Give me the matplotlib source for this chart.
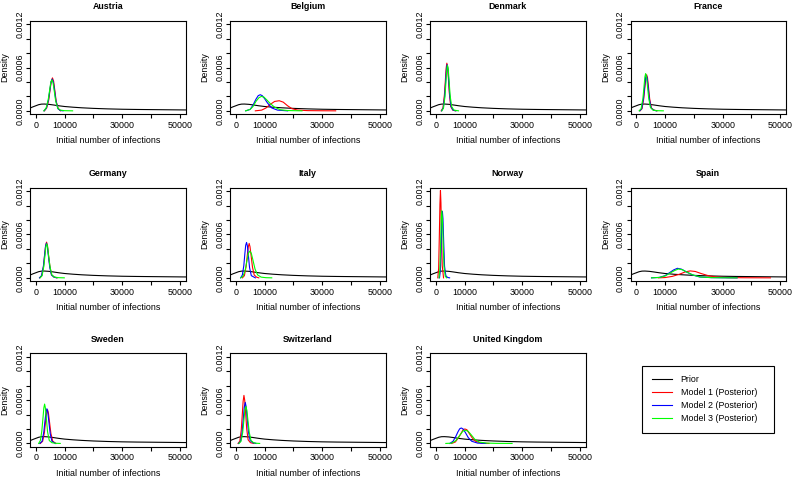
import matplotlib
matplotlib.use("Agg")
import matplotlib.pyplot as plt
from matplotlib.lines import Line2D
from matplotlib.ticker import FixedLocator, FixedFormatter

plt.rcParams['font.family'] = ['Liberation Sans', 'DejaVu Sans']

countries = ["Austria", "Belgium", "Denmark", "France", "Germany", "Italy",
             "Norway", "Spain", "Sweden", "Switzerland", "United Kingdom"]
legend_labels = ["Prior", "Model 1 (Posterior)", "Model 2 (Posterior)", "Model 3 (Posterior)"]
x_ticks = [0, 10000, 20000, 30000, 40000, 50000]
x_tick_labels = ["0", "10000", "", "30000", "", "50000"]
y_ticks = [0.0, 0.0002, 0.0004, 0.0006, 0.0008, 0.0010, 0.0012]
y_tick_labels = ["0.0000", "", "", "0.0006", "", "", "0.0012"]

# Prior density (same in every panel)
prior_x = [-4000, -2500, -1000, 0, 1000, 2000, 3000, 4500, 6000, 8000, 10000, 13000,
           16000, 20000, 25000, 30000, 35000, 40000, 45000, 50000, 55000]
prior_y = [0.00001, 0.00003, 0.000055, 0.00007, 0.000085, 0.000093, 0.000094, 0.00009,
           0.000082, 0.00007, 0.00006, 0.00005, 0.000042, 0.000034, 0.000027, 0.000022,
           0.000019, 0.000017, 0.000015, 0.000013, 0.000011]

# Posterior densities: model 1 (red), model 2 (blue), model 3 (green)
austria_m1_x = [3000, 3800, 4500, 5000, 5400, 5800, 6200, 6600, 7100, 7800, 8600]
austria_m1_y = [0, 0.00004, 0.00015, 0.00030, 0.00041, 0.000456, 0.00041, 0.00029, 0.00013, 0.00003, 0]
austria_m2_x = [2900, 3700, 4400, 4900, 5300, 5700, 6100, 6500, 7000, 7700, 8500, 9500]
austria_m2_y = [0, 0.00004, 0.00015, 0.00029, 0.0004, 0.00044, 0.0004, 0.00029, 0.00014, 0.00003, 0.000005, 0]
austria_m3_x = [2800, 3600, 4300, 4800, 5200, 5600, 6000, 6400, 6900, 7600, 8500, 10000, 12800]
austria_m3_y = [0, 0.00004, 0.00015, 0.00028, 0.00039, 0.00043, 0.00039, 0.00028, 0.00014, 0.00004, 0.00001, 0.000002, 0]

belgium_m1_x = [6800, 9000, 10500, 12000, 13500, 15100, 16500, 18000, 19500, 21500, 25000, 30000, 34700]
belgium_m1_y = [0, 0.00001, 0.00004, 0.00009, 0.00013, 0.00014, 0.00012, 0.00007, 0.00003, 0.00001, 0.000003, 0.000001, 0]
belgium_m2_x = [3500, 5000, 6000, 7000, 7800, 8500, 9200, 10000, 11000, 12500, 14500, 18000]
belgium_m2_y = [0, 0.00002, 0.00008, 0.00016, 0.00021, 0.000223, 0.00021, 0.00017, 0.00011, 0.00004, 0.00001, 0]
belgium_m3_x = [3400, 5000, 6000, 7000, 8000, 8900, 9800, 10800, 12000, 13500, 15500, 18000, 23000]
belgium_m3_y = [0, 0.00002, 0.00006, 0.00013, 0.00018, 0.0002, 0.00019, 0.00015, 0.0001, 0.00005, 0.000015, 0.000004, 0]

denmark_m1_x = [1900, 2500, 3000, 3300, 3600, 3850, 4100, 4400, 4700, 5200, 5900, 6800]
denmark_m1_y = [0, 0.00004, 0.00022, 0.0004, 0.00059, 0.00066, 0.00061, 0.00044, 0.00025, 0.00006, 0.00001, 0]
denmark_m2_x = [2000, 2600, 3100, 3400, 3700, 3950, 4200, 4500, 4800, 5300, 6000, 7000]
denmark_m2_y = [0, 0.00004, 0.00021, 0.00039, 0.00057, 0.00064, 0.00059, 0.00043, 0.00024, 0.00006, 0.00001, 0]
denmark_m3_x = [2100, 2700, 3200, 3500, 3800, 4070, 4350, 4650, 5000, 5500, 6300, 7900]
denmark_m3_y = [0, 0.00004, 0.0002, 0.00038, 0.00056, 0.00063, 0.00057, 0.0004, 0.00021, 0.00006, 0.00001, 0]

france_m1_x = [1300, 2000, 2600, 3000, 3300, 3600, 3900, 4250, 4650, 5250, 6100, 7200]
france_m1_y = [0, 0.00003, 0.00017, 0.00033, 0.00045, 0.0005, 0.00046, 0.00033, 0.00017, 0.00004, 0.00001, 0]
france_m2_x = [1200, 1900, 2500, 2900, 3200, 3500, 3800, 4150, 4550, 5150, 6000, 7000]
france_m2_y = [0, 0.00003, 0.00017, 0.00033, 0.00045, 0.00049, 0.00045, 0.00032, 0.00016, 0.00004, 0.00001, 0]
france_m3_x = [1000, 1700, 2300, 2700, 3000, 3260, 3550, 3900, 4300, 4900, 5800, 7200, 9400]
france_m3_y = [0, 0.00003, 0.00017, 0.00034, 0.00047, 0.000516, 0.00047, 0.00034, 0.00018, 0.00005, 0.00001, 0.000002, 0]

germany_m1_x = [1400, 2100, 2700, 3100, 3450, 3750, 4050, 4450, 4900, 5500, 6400, 7400]
germany_m1_y = [0, 0.00003, 0.00016, 0.00032, 0.00045, 0.000494, 0.00045, 0.00031, 0.00016, 0.00004, 0.00001, 0]
germany_m2_x = [1300, 2000, 2650, 3050, 3400, 3700, 4000, 4400, 4850, 5450, 6300, 7300]
germany_m2_y = [0, 0.00003, 0.00016, 0.00031, 0.00044, 0.00048, 0.00044, 0.0003, 0.00015, 0.00004, 0.00001, 0]
germany_m3_x = [1500, 2200, 2800, 3200, 3500, 3800, 4100, 4500, 5000, 5600, 6500, 8000, 9900]
germany_m3_y = [0, 0.00003, 0.00016, 0.00031, 0.00043, 0.00047, 0.00043, 0.00029, 0.00014, 0.00004, 0.00001, 0.000002, 0]

italy_m1_x = [2300, 3000, 3600, 4000, 4350, 4660, 4950, 5350, 5800, 6400, 7200, 8000]
italy_m1_y = [0, 0.00003, 0.00016, 0.00031, 0.00043, 0.000476, 0.00043, 0.0003, 0.00015, 0.00004, 0.00001, 0]
italy_m2_x = [1700, 2300, 2800, 3150, 3450, 3750, 4050, 4400, 4800, 5400, 6800]
italy_m2_y = [0, 0.00004, 0.00017, 0.00033, 0.00045, 0.00049, 0.00044, 0.0003, 0.00014, 0.00003, 0]
italy_m3_x = [1700, 2500, 3300, 3900, 4400, 4900, 5400, 6000, 6700, 7600, 8800, 10500, 12500]
italy_m3_y = [0, 0.00002, 0.00011, 0.00024, 0.00034, 0.00037, 0.00034, 0.00024, 0.00012, 0.00004, 0.00001, 0.000002, 0]

norway_m1_x = [700, 1000, 1250, 1450, 1630, 1800, 2000, 2250, 2700]
norway_m1_y = [0, 0.00013, 0.0006, 0.00102, 0.00121, 0.00104, 0.00061, 0.00017, 0]
norway_m2_x = [1300, 1600, 1850, 2100, 2300, 2500, 2750, 3050, 3500, 4100, 4800]
norway_m2_y = [0, 0.0001, 0.00039, 0.00082, 0.00092, 0.00082, 0.0005, 0.00016, 0.00003, 0.000005, 0]
norway_m3_x = [1100, 1400, 1650, 1900, 2100, 2300, 2550, 2850, 3300, 3800]
norway_m3_y = [0, 0.0001, 0.00039, 0.00083, 0.00093, 0.00083, 0.00051, 0.00016, 0.00002, 0]

spain_m1_x = [7700, 10000, 12500, 15000, 17000, 18700, 20500, 22500, 25000, 28000, 32000, 38000, 46600]
spain_m1_y = [0, 0.000004, 0.00002, 0.00005, 0.000082, 0.000096, 0.000088, 0.00006, 0.00003, 0.00001, 0.000003, 0.000001, 0]
spain_m2_x = [5300, 8000, 10000, 11500, 13000, 14300, 15700, 17500, 19500, 22000, 26000, 30000, 35000]
spain_m2_y = [0, 0.000006, 0.00003, 0.00007, 0.00011, 0.000132, 0.00012, 0.00008, 0.00004, 0.000012, 0.000003, 0.000001, 0]
spain_m3_x = [5300, 8000, 10000, 11700, 13300, 14650, 16000, 17800, 19800, 22300, 26000, 30000, 35000]
spain_m3_y = [0, 0.000005, 0.000025, 0.000065, 0.0001, 0.000123, 0.000112, 0.000075, 0.000038, 0.000012, 0.000003, 0.000001, 0]

sweden_m1_x = [1600, 2400, 3000, 3400, 3780, 4090, 4400, 4800, 5250, 5900, 7000]
sweden_m1_y = [0, 0.00003, 0.00015, 0.0003, 0.00042, 0.000467, 0.00042, 0.00029, 0.00014, 0.00003, 0]
sweden_m2_x = [1400, 2200, 2800, 3200, 3550, 3860, 4150, 4550, 5000, 5600, 6800]
sweden_m2_y = [0, 0.00003, 0.00016, 0.00031, 0.00043, 0.00048, 0.00044, 0.0003, 0.00014, 0.00003, 0]
sweden_m3_x = [1000, 1600, 2100, 2500, 2800, 3070, 3350, 3700, 4100, 4700, 5600, 7000, 8500]
sweden_m3_y = [0, 0.00004, 0.00017, 0.00035, 0.00049, 0.000545, 0.00049, 0.00034, 0.00016, 0.00004, 0.00001, 0.000002, 0]

switzerland_m1_x = [800, 1400, 1900, 2250, 2550, 2840, 3100, 3450, 3800, 4300, 5100, 6250]
switzerland_m1_y = [0, 0.00003, 0.00018, 0.00039, 0.00058, 0.000665, 0.0006, 0.00041, 0.0002, 0.00005, 0.00001, 0]
switzerland_m2_x = [1000, 1700, 2200, 2600, 2950, 3300, 3600, 4000, 4400, 5000, 5900, 7000]
switzerland_m2_y = [0, 0.00003, 0.00015, 0.00033, 0.0005, 0.000568, 0.00051, 0.00034, 0.00016, 0.00004, 0.00001, 0]
switzerland_m3_x = [1100, 1800, 2400, 2800, 3150, 3520, 3850, 4250, 4700, 5300, 6200, 7300, 8300]
switzerland_m3_y = [0, 0.00003, 0.00015, 0.00031, 0.00046, 0.000513, 0.00046, 0.00031, 0.00015, 0.00004, 0.00001, 0.000002, 0]

uk_m1_x = [5500, 6800, 7900, 8800, 9500, 10100, 10800, 11600, 12600, 13800, 15800, 18500]
uk_m1_y = [0, 0.00002, 0.00008, 0.00014, 0.00019, 0.0002, 0.00019, 0.00014, 0.00008, 0.00003, 0.000005, 0]
uk_m2_x = [4900, 6000, 7000, 7700, 8300, 8860, 9500, 10300, 11300, 12500, 14500, 17400]
uk_m2_y = [0, 0.00003, 0.0001, 0.00016, 0.000202, 0.000214, 0.0002, 0.00015, 0.00008, 0.00003, 0.000005, 0]
uk_m3_x = [3500, 5500, 7000, 8300, 9400, 10300, 11200, 12300, 13500, 15000, 17500, 21000, 26500]
uk_m3_y = [0, 0.000004, 0.00004, 0.00011, 0.00017, 0.000182, 0.00017, 0.00012, 0.00006, 0.00002, 0.000005, 0.000001, 0]

posteriors = [
    [(austria_m1_x, austria_m1_y), (austria_m2_x, austria_m2_y), (austria_m3_x, austria_m3_y)],
    [(belgium_m1_x, belgium_m1_y), (belgium_m2_x, belgium_m2_y), (belgium_m3_x, belgium_m3_y)],
    [(denmark_m1_x, denmark_m1_y), (denmark_m2_x, denmark_m2_y), (denmark_m3_x, denmark_m3_y)],
    [(france_m1_x, france_m1_y), (france_m2_x, france_m2_y), (france_m3_x, france_m3_y)],
    [(germany_m1_x, germany_m1_y), (germany_m2_x, germany_m2_y), (germany_m3_x, germany_m3_y)],
    [(italy_m1_x, italy_m1_y), (italy_m2_x, italy_m2_y), (italy_m3_x, italy_m3_y)],
    [(norway_m1_x, norway_m1_y), (norway_m2_x, norway_m2_y), (norway_m3_x, norway_m3_y)],
    [(spain_m1_x, spain_m1_y), (spain_m2_x, spain_m2_y), (spain_m3_x, spain_m3_y)],
    [(sweden_m1_x, sweden_m1_y), (sweden_m2_x, sweden_m2_y), (sweden_m3_x, sweden_m3_y)],
    [(switzerland_m1_x, switzerland_m1_y), (switzerland_m2_x, switzerland_m2_y), (switzerland_m3_x, switzerland_m3_y)],
    [(uk_m1_x, uk_m1_y), (uk_m2_x, uk_m2_y), (uk_m3_x, uk_m3_y)],
]
model_colors = ["#FF0000", "#0000FF", "#00FF00"]

W, H = 794, 480
fig = plt.figure(figsize=(W / 100, H / 100), dpi=100)

col_left = [30, 230, 430, 630.5]
row_top = [20.7, 187.7, 353.3]
pw, ph = 155.5, 93.6
FS = 6.4
LW = 0.8

for i, name in enumerate(countries):
    r, c = divmod(i, 4)
    ax = fig.add_axes([col_left[c] / W, 1 - (row_top[r] + ph) / H, pw / W, ph / H])
    ax.plot(prior_x, prior_y, color="black", lw=LW)
    for (xs, ys), col in zip(posteriors[i], model_colors):
        ax.plot(xs, ys, color=col, lw=LW)
    ax.set_xlim(-2000, 52000)
    ax.set_ylim(-0.000048, 0.001248)
    ax.xaxis.set_major_locator(FixedLocator(x_ticks))
    ax.xaxis.set_major_formatter(FixedFormatter(x_tick_labels))
    ax.yaxis.set_major_locator(FixedLocator(y_ticks))
    ax.yaxis.set_major_formatter(FixedFormatter(y_tick_labels))
    ax.tick_params(axis="both", direction="out", length=3.0, width=LW,
                   labelsize=FS, colors="black")
    ax.tick_params(axis="x", pad=1.5)
    ax.tick_params(axis="y", pad=1.0, labelrotation=90)
    for lab in ax.get_yticklabels():
        lab.set_va("center")
    for sp in ax.spines.values():
        sp.set_linewidth(LW)
        sp.set_color("black")
    ax.set_title(name, fontsize=FS, fontweight="bold", pad=8.4)
    ax.set_xlabel("Initial number of infections", fontsize=FS)
    ax.set_ylabel("Density", fontsize=FS)
    ax.xaxis.set_label_coords(0.5, -0.234)
    ax.yaxis.set_label_coords(-0.132, 0.5)

handles = [Line2D([], [], color=col, lw=LW) for col in ["black"] + model_colors]
lx0, ly0, lx1, ly1 = 642.3, 366, 774.3, 436
leg = fig.legend(handles, legend_labels, loc="upper left",
                 bbox_to_anchor=(lx0 / W, 1 - ly1 / H, (lx1 - lx0) / W, (ly1 - ly0) / H),
                 mode="expand", fontsize=FS, frameon=True, fancybox=False,
                 edgecolor="black", framealpha=1, borderpad=1.05, labelspacing=0.45,
                 handlelength=2.3, handletextpad=0.95, borderaxespad=0)
leg.get_frame().set_linewidth(LW)

fig.savefig("out.png", dpi=100)
